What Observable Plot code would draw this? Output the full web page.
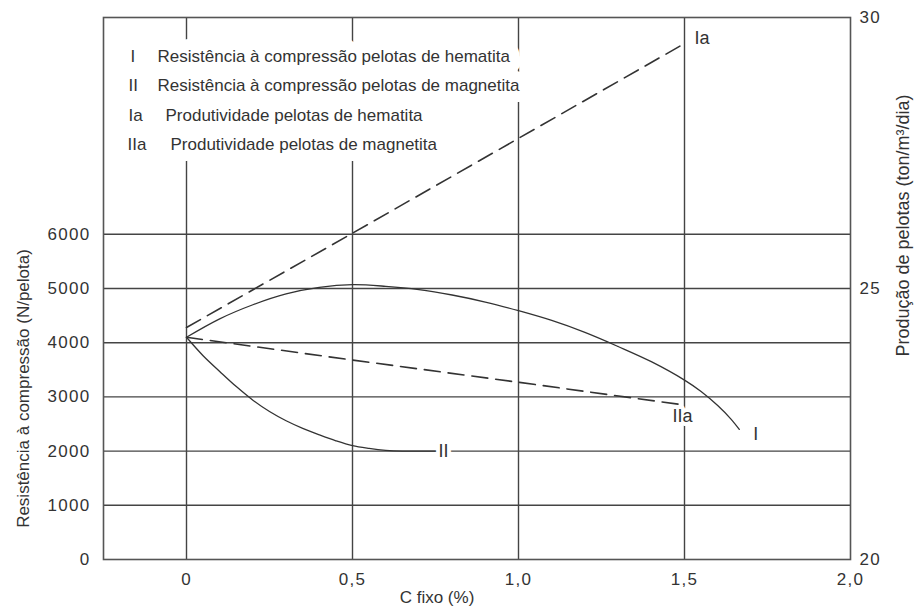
<!DOCTYPE html>
<html><head><meta charset="utf-8">
<script src="https://cdn.jsdelivr.net/npm/d3@7"></script>
<script src="https://cdn.jsdelivr.net/npm/@observablehq/plot@0.6"></script>
<style>
html,body{margin:0;padding:0;background:#fff;}
svg text{font-family:"Liberation Sans",Arial,Helvetica,sans-serif;}
g[aria-label$="tick label"] text{letter-spacing:1.3px;}
[aria-label="legend text"]{letter-spacing:0.4px;}
[aria-label="y title"]{letter-spacing:0.6px;}
[aria-label="y2 title"]{letter-spacing:0.9px;}
[aria-label="x title"]{letter-spacing:0.5px;}
</style></head><body><div id="chart"></div>
<script>
// ---- data ----
const xTicks = [0, 0.5, 1.0, 1.5, 2.0];
const leftTicks = [0, 1000, 2000, 3000, 4000, 5000, 6000];
const gridY = [1000, 2000, 3000, 4000, 5000, 6000];
const gridX = [0, 0.5, 1.0, 1.5];
const rightTicks = [20, 25, 30];

// I – Resistência à compressão pelotas de hematita (N/pelota)
const cFixoI = [0, 0.1, 0.2, 0.3, 0.4, 0.5, 0.6, 0.7, 0.8, 0.9, 1.0, 1.1, 1.2, 1.3, 1.4, 1.5, 1.55, 1.6, 1.64, 1.665];
const resistHematita = [4100, 4440, 4700, 4900, 5020, 5070, 5040, 4980, 4880, 4750, 4590, 4410, 4190, 3930, 3650, 3310, 3100, 2840, 2590, 2400];

// II – Resistência à compressão pelotas de magnetita (N/pelota)
const cFixoII = [0, 0.05, 0.1, 0.15, 0.2, 0.25, 0.3, 0.35, 0.4, 0.45, 0.5, 0.55, 0.6, 0.65, 0.75];
const resistMagnetita = [4100, 3760, 3470, 3190, 2940, 2730, 2560, 2420, 2300, 2190, 2100, 2050, 2015, 2000, 2000];

// Ia / IIa – Produtividade (ton/m³/dia), right axis
const cFixoProd = [0, 0.5, 1.0, 1.5];
const prodHematita = [24.28, 26.02, 27.77, 29.52];
const prodMagnetita = [24.10, 23.68, 23.27, 22.85];

const legendKeys = ["I", "II", "Ia", "IIa"];
const legendTexts = [
  "Resistência à compressão pelotas de hematita",
  "Resistência à compressão pelotas de magnetita",
  "Produtividade pelotas de hematita",
  "Produtividade pelotas de magnetita"
];
const xTitle = "C fixo (%)";
const yTitle = "Resistência à compressão (N/pelota)";
const y2Title = "Produção de pelotas (ton/m³/dia)";

// right axis (20..30) mapped onto the left scale (0..10000)
const toLeft = p => (p - 20) * 1000;
const fmtX = d => d === 0 ? "0" : d.toFixed(1).replace(".", ",");

const ink = "#333";
const halo = {stroke: "white", strokeWidth: 10, fill: ink};

// legend layout
const legendBase = [44, 73, 103, 132];
const keyDx = [27, 25, 25, 24];
const textDx = [54, 54, 62, 67];
const legendMarks = [];
legendKeys.forEach((k, i) => {
  legendMarks.push(Plot.text([k], {frameAnchor: "top-left", dx: keyDx[i], dy: legendBase[i], textAnchor: "start", lineAnchor: "bottom", fontSize: 17, fill: ink, stroke: "white", strokeWidth: 20}));
  legendMarks.push(Plot.text([legendTexts[i]], {frameAnchor: "top-left", dx: textDx[i], dy: legendBase[i], textAnchor: "start", lineAnchor: "bottom", fontSize: 17, fill: ink, stroke: "white", strokeWidth: 22, ariaLabel: "legend text"}));
});

const last = a => a[a.length - 1];

const chart = Plot.plot({
  width: 915, height: 609,
  marginLeft: 103, marginRight: 65, marginTop: 17, marginBottom: 50,
  x: {domain: [-0.25, 2.0]},
  y: {domain: [0, 10000]},
  style: {background: "#fff", color: ink},
  marks: [
    Plot.ruleY(gridY, {stroke: "#444", strokeWidth: 1.4}),
    Plot.ruleX(gridX, {stroke: "#444", strokeWidth: 1.4}),
    Plot.frame({stroke: "#555", strokeWidth: 1.6}),
    Plot.axisX({ticks: xTicks, tickFormat: fmtX, tickSize: 0, tickPadding: 13, fontSize: 17, label: null, fill: ink}),
    Plot.axisY({anchor: "left", ticks: leftTicks, tickFormat: d => String(d), tickSize: 0, tickPadding: 13, fontSize: 17, label: null, fill: ink}),
    Plot.axisY({anchor: "right", ticks: rightTicks.map(toLeft), tickFormat: d => String(20 + d / 1000), tickSize: 0, tickPadding: 9, fontSize: 17, label: null, fill: ink}),
    // curves
    Plot.line(cFixoI, {x: cFixoI, y: resistHematita, curve: "catmull-rom", stroke: ink, strokeWidth: 1.3}),
    Plot.line(cFixoII, {x: cFixoII, y: resistMagnetita, curve: "catmull-rom", stroke: ink, strokeWidth: 1.3}),
    Plot.line(cFixoProd, {x: cFixoProd, y: prodHematita.map(toLeft), stroke: ink, strokeWidth: 1.6, strokeDasharray: "16,8"}),
    Plot.line(cFixoProd, {x: cFixoProd, y: prodMagnetita.map(toLeft), stroke: ink, strokeWidth: 1.6, strokeDasharray: "16,8"}),
    // curve labels
    Plot.text(["Ia"], {x: [last(cFixoProd)], y: [toLeft(last(prodHematita))], dx: 10, textAnchor: "start", lineAnchor: "bottom", fontSize: 18, ...halo}),
    Plot.text(["IIa"], {x: [last(cFixoProd)], y: [toLeft(last(prodMagnetita))], dx: -2, dy: 4, textAnchor: "middle", lineAnchor: "top", fontSize: 18, ...halo, strokeWidth: 8}),
    Plot.text(["I"], {x: [last(cFixoI)], y: [last(resistHematita)], dx: 14, dy: -2, textAnchor: "start", lineAnchor: "top", fontSize: 18, ...halo}),
    Plot.text(["II"], {x: [last(cFixoII)], y: [last(resistMagnetita)], dx: 3, textAnchor: "start", lineAnchor: "middle", fontSize: 18, ...halo, strokeWidth: 8}),
    // legend
    ...legendMarks,
    // axis titles
    Plot.text([yTitle], {frameAnchor: "left", dx: -80, dy: 100, rotate: -90, textAnchor: "middle", lineAnchor: "middle", fontSize: 17, fill: ink, ariaLabel: "y title"}),
    Plot.text([y2Title], {frameAnchor: "right", dx: 53, dy: -63, rotate: -90, textAnchor: "middle", lineAnchor: "middle", fontSize: 18, fill: ink, ariaLabel: "y2 title"}),
    Plot.text([xTitle], {frameAnchor: "bottom", dx: -40, dy: 38, textAnchor: "middle", lineAnchor: "middle", fontSize: 17, fill: ink, ariaLabel: "x title"})
  ]
});
document.getElementById("chart").appendChild(chart);
</script>
</body></html>
